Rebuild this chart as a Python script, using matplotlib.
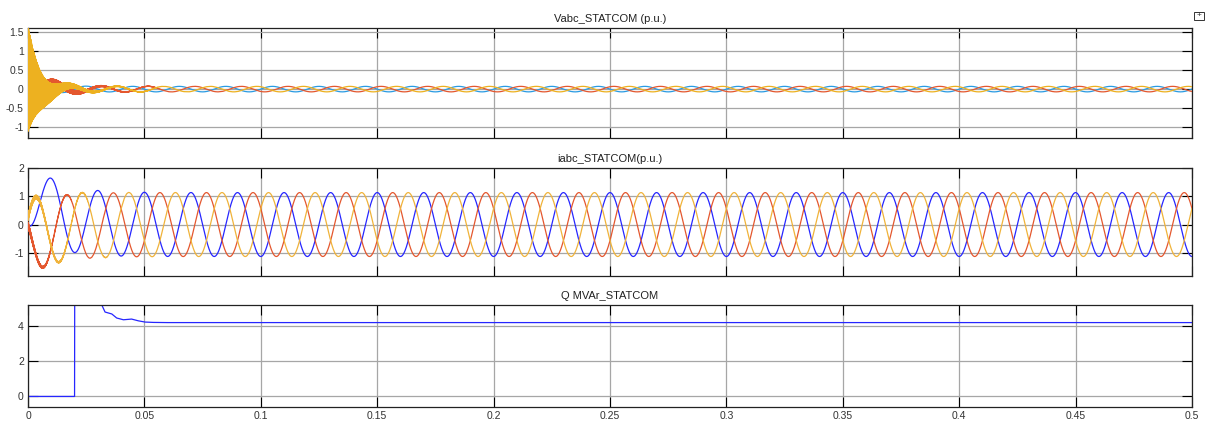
import numpy as np
import matplotlib
matplotlib.use('Agg')
import matplotlib.pyplot as plt
import matplotlib.patches as rec

plt.rcParams['font.family'] = ['Liberation Sans', 'DejaVu Sans']

# ---- datos ----
t_fin = 0.5
f_red = 50.0
paso = 1e-5
f_rafaga = 9700.0

titulos = ['Vabc_STATCOM (p.u.)', 'iabc_STATCOM(p.u.)', 'Q MVAr_STATCOM']
colores_v = ['#2a9be3', '#e4572e', '#edb120']
colores_i = ['#2626ff', '#e4572e', '#f0b33a']

# tension: amplitud de regimen, fase (grados), extra transitoria
v_amp = [0.072, 0.072, 0.072]
v_fase = [0, -120, 120]
v_extra = [0.10, 0.25, 0.10]
v_tau_extra = 0.009
# rafaga de alta frecuencia: [amp1, tau1, amp2, tau2]
v_rafaga = [[0.0, 0.004, 0.0, 0.01],
            [0.35, 0.01, 0.0, 0.01],
            [1.10, 0.0045, 0.30, 0.01]]
v_offset = [0.0, 0.0, 0.12]
v_tau_offset = 0.004

# corriente
i_amp = [1.13, 1.13, 1.13]
i_fase = [-90, -210, 30]
i_extra = [0.10, 0.10, 0.20]
i_tau_extra = 0.015
i_dc = [1.23, -0.615, -0.45]
i_tau_dc = 0.01
i_rizado = [0.0, 0.10, 0.10]
i_tau_rizado = [0.005, 0.006, 0.009]

# potencia reactiva
q_t = [0, 0.02, 0.0201, 0.025, 0.03, 0.0317, 0.0331, 0.036, 0.0381,
       0.041, 0.0445, 0.0474, 0.0503, 0.0538, 0.06, 0.5]
q_val = [0, 0, 9.0, 7.0, 5.6, 5.2, 4.8, 4.69, 4.46,
         4.36, 4.4, 4.3, 4.23, 4.21, 4.2, 4.2]

y_lims = [(-1.28, 1.6), (-1.82, 2.0), (-0.6, 5.2)]
y_ticks = [[-1, -0.5, 0, 0.5, 1, 1.5], [-1, 0, 1, 2], [0, 2, 4]]


def dibujar():
    t = np.arange(0, t_fin + paso, paso)
    w = 2 * np.pi * f_red
    hf = np.sin(2 * np.pi * f_rafaga * t)

    fig = plt.figure(figsize=(12.05, 4.3), dpi=100)
    W, H = 1205.0, 430.0
    cajas = [(28, 28, 138), (28, 168, 276), (28, 305, 407)]
    ejes = []
    for izq, arriba, abajo in cajas:
        ax = fig.add_axes([izq / W, 1 - abajo / H, (1192 - izq) / W, (abajo - arriba) / H])
        ejes.append(ax)

    # tensiones
    ax = ejes[0]
    for k in range(3):
        amp = v_amp[k] + v_extra[k] * np.exp(-t / v_tau_extra)
        a1, t1, a2, t2 = v_rafaga[k]
        env = a1 * np.exp(-t / t1) + a2 * np.exp(-t / t2)
        v = amp * np.sin(w * t + np.radians(v_fase[k])) + env * hf \
            + v_offset[k] * np.exp(-t / v_tau_offset)
        ax.plot(t, v, color=colores_v[k], lw=0.9, zorder=2 + k)

    # corrientes
    ax = ejes[1]
    for k in range(3):
        amp = i_amp[k] + i_extra[k] * np.exp(-t / i_tau_extra)
        i = amp * np.sin(w * t + np.radians(i_fase[k])) \
            + i_dc[k] * np.exp(-t / i_tau_dc) \
            + i_rizado[k] * np.exp(-t / i_tau_rizado[k]) * hf
        ax.plot(t, i, color=colores_i[k], lw=0.9, zorder=2 + k)

    # Q
    ejes[2].plot(q_t, q_val, color='#2626ff', lw=0.9, zorder=2)

    for n, ax in enumerate(ejes):
        ax.set_xlim(0, t_fin)
        ax.set_ylim(*y_lims[n])
        ax.set_xticks(np.arange(0, 0.501, 0.05))
        ax.set_yticks(y_ticks[n])
        ax.set_yticklabels(['%g' % v for v in y_ticks[n]])
        if n == 2:
            ax.set_xticklabels(['%g' % round(v, 2) for v in np.arange(0, 0.501, 0.05)])
        else:
            ax.set_xticklabels([])
        ax.grid(True, color='#a6a6a6', lw=0.9, zorder=0)
        ax.set_axisbelow(True)
        ax.tick_params(direction='in', length=7, width=0.8, top=True, right=True,
                       labelsize=7.5, labelcolor='#333333', pad=3)
        for s in ax.spines.values():
            s.set_linewidth(0.9)
            s.set_color('#222222')
        ax.set_title(titulos[n], fontsize=8, pad=4, color='#222222')

    # icono de la esquina
    fig.patches.append(rec.Rectangle((1194 / W, 1 - 20 / H), 10 / W, 8 / H,
                                     transform=fig.transFigure, fill=False,
                                     lw=0.7, edgecolor='#333333'))
    fig.text(1199 / W, 1 - 16 / H, '+', fontsize=6, ha='center', va='center',
             color='#333333')

    fig.savefig('out.png', dpi=100)


dibujar()
